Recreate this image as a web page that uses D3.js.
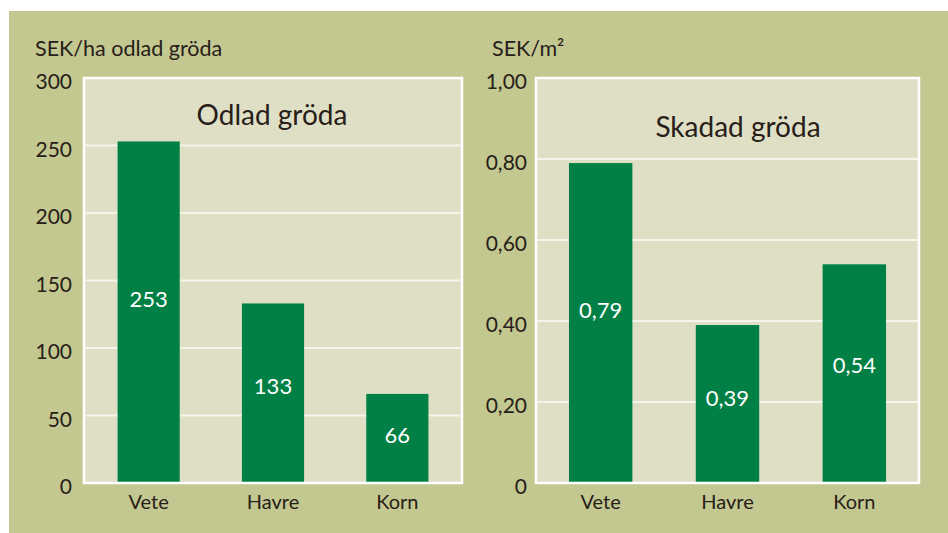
<!DOCTYPE html>
<html><head><meta charset="utf-8">
<script src="https://cdn.jsdelivr.net/npm/d3@7"></script>
<style>
html,body{margin:0;padding:0;background:#fff;}
svg{display:block;font-family:Lato,"Open Sans",sans-serif;font-weight:400;}
</style></head>
<body>
<svg id="chart" width="948" height="533"></svg>
<script>
// ---- data ----
const categories = ["Vete", "Havre", "Korn"];
const sekPerHa = [253, 133, 66];
const sekPerM2 = [0.79, 0.39, 0.54];
const leftTicks = [0, 50, 100, 150, 200, 250, 300];
const rightTicks = [0, 0.2, 0.4, 0.6, 0.8, 1.0];
const leftTitle = "Odlad gröda";
const rightTitle = "Skadad gröda";
const leftUnit = "SEK/ha odlad gröda";
const rightUnit = "SEK/m²";

// ---- style ----
const C = {bg:"#c3c790", plot:"#dfdfc5", bar:"#008045", text:"#272019", grid:"#f4f4ea"};
const svg = d3.select("#chart");
svg.append("rect").attr("x",9).attr("y",11).attr("width",939).attr("height",522).attr("fill",C.bg);

const commaFmt = v => v === 0 ? "0" : d3.format(".2f")(v).replace(".", ",");

function panel(o){
  const g = svg.append("g");
  const x = d3.scaleBand().domain(categories).range([o.x0, o.x1]).paddingInner(o.pi).paddingOuter(o.po);
  const y = d3.scaleLinear().domain([0, o.max]).range([483, 78]);
  // plot area
  g.append("rect").attr("x",o.x0).attr("y",y(o.max)).attr("width",o.x1-o.x0).attr("height",y(0)-y(o.max))
    .attr("fill",C.plot);
  // gridlines
  g.append("g").selectAll("line").data(o.ticks.filter(t=>t>0 && t<o.max)).join("line")
    .attr("x1",o.x0).attr("x2",o.x1).attr("y1",d=>y(d)).attr("y2",d=>y(d))
    .attr("stroke",C.grid).attr("stroke-width",2);
  // bars
  g.append("g").selectAll("rect").data(o.values).join("rect")
    .attr("x",(d,i)=>x(categories[i])).attr("width",x.bandwidth())
    .attr("y",d=>y(d)).attr("height",d=>y(0)-y(d)).attr("fill",C.bar);
  // frame
  g.append("rect").attr("x",o.x0).attr("y",y(o.max)).attr("width",o.x1-o.x0).attr("height",y(0)-y(o.max))
    .attr("fill","none").attr("stroke","#fff").attr("stroke-width",2.5);
  // value labels
  g.append("g").selectAll("text").data(o.values).join("text")
    .attr("x",(d,i)=>x(categories[i])+x.bandwidth()/2)
    .attr("y",d=>y(0)-0.54*(y(0)-y(d))+8)
    .attr("text-anchor","middle").attr("fill","#fff").attr("font-size",22)
    .text(d=>o.fmt(d));
  // y axis
  const ya = g.append("g").attr("transform",`translate(${o.x0},0)`)
    .call(d3.axisLeft(y).tickValues(o.ticks).tickFormat(o.fmt).tickSize(0).tickPadding(o.x0-o.tickRight));
  ya.select(".domain").remove();
  ya.selectAll("text").attr("font-family","Lato").attr("font-size",21).attr("fill",C.text).attr("y",4);
  // x axis
  const xa = g.append("g").attr("transform",`translate(0,${y(0)})`)
    .call(d3.axisBottom(x).tickSize(0).tickPadding(0));
  xa.select(".domain").remove();
  xa.selectAll("text").attr("font-family","Lato").attr("font-size",20).attr("fill",C.text).attr("dy",0).attr("y",26);
  // unit label
  g.append("text").attr("x",o.unitX).attr("y",56).attr("font-size",21.5).attr("fill",C.text).text(o.unit);
  // title
  g.append("text").attr("x",o.titleX).attr("y",o.titleY).attr("text-anchor","middle")
    .attr("font-size",28).attr("fill",C.text).text(o.title);
}

panel({x0:84, x1:462, pi:0.5, po:0.27, max:300, values:sekPerHa, ticks:leftTicks, fmt:d=>String(d),
  tickRight:72, unit:leftUnit, unitX:35, title:leftTitle, titleX:272, titleY:125});
panel({x0:536, x1:919, pi:0.5, po:0.26, max:1, values:sekPerM2, ticks:rightTicks, fmt:commaFmt,
  tickRight:527, unit:rightUnit, unitX:492, title:rightTitle, titleX:738, titleY:137});
</script>
</body></html>
